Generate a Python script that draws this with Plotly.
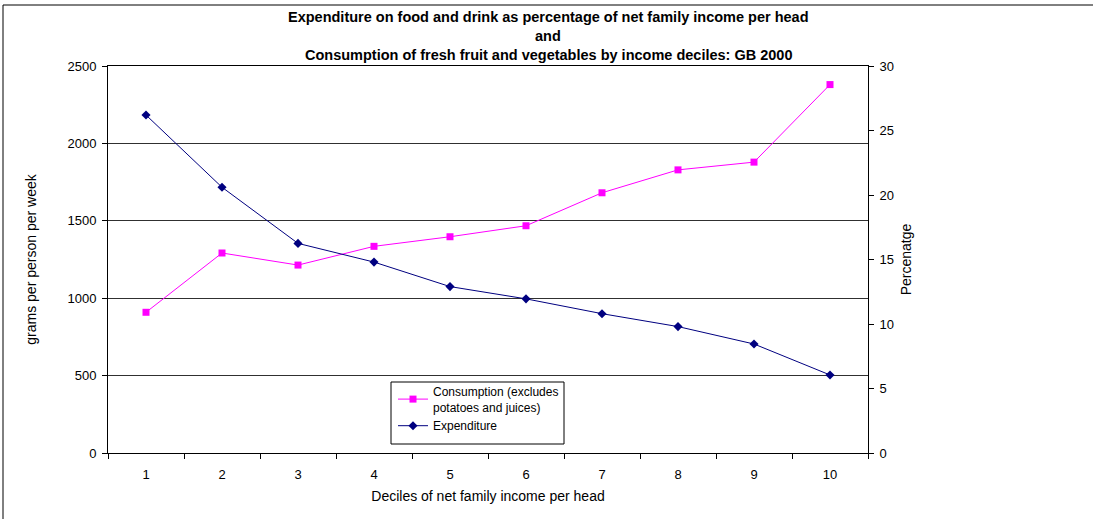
import plotly.graph_objects as go

deciles = ["1", "2", "3", "4", "5", "6", "7", "8", "9", "10"]
consumption = [909, 1292, 1214, 1335, 1397, 1468, 1681, 1829, 1879, 2380]
expenditure = [26.2, 20.6, 16.25, 14.8, 12.9, 11.95, 10.8, 9.8, 8.45, 6.05]
left_ticks = [0, 500, 1000, 1500, 2000, 2500]
right_ticks = [0, 5, 10, 15, 20, 25, 30]

FONT = "Arial, Liberation Sans, sans-serif"
L, R, T, B = 108, 225, 66, 66
W, H = 1093, 519
pw = W - L - R
ph = H - T - B

def px_x(x):
    return (x - L) / pw

def px_y(y):
    return (H - B - y) / ph

fig = go.Figure()
fig.add_trace(go.Scatter(
    x=deciles, y=consumption, name="Consumption (excludes<br>potatoes and juices)",
    mode="lines+markers", line=dict(color="#FF00FF", width=1),
    marker=dict(symbol="square", size=7, color="#FF00FF"), yaxis="y"))
fig.add_trace(go.Scatter(
    x=deciles, y=expenditure, name="Expenditure",
    mode="lines+markers", line=dict(color="#000080", width=1),
    marker=dict(symbol="diamond", size=7, color="#000080"), yaxis="y2"))

fig.update_layout(
    width=W, height=H, autosize=False,
    margin=dict(l=L, r=R, t=T, b=B, pad=0),
    paper_bgcolor="white", plot_bgcolor="white",
    font=dict(family=FONT, size=13, color="black"),
    showlegend=True,
    legend=dict(x=px_x(393), y=px_y(377), xanchor="left", yanchor="top",
                bgcolor="rgba(0,0,0,0)", borderwidth=0,
                font=dict(family=FONT, size=12, color="black"),
                tracegroupgap=0, itemwidth=30),
    xaxis=dict(type="category", tickson="boundaries", ticks="outside", ticklen=5,
               tickcolor="black", showline=True, linecolor="black", linewidth=1,
               mirror=True,
               showgrid=False, zeroline=False, range=[-0.5, 9.5],
               tickfont=dict(size=13), ticklabelstandoff=9,
               title=dict(text="Deciles of net family income per head", font=dict(size=14), standoff=10)),
    yaxis=dict(range=[0, 2500], tickvals=left_ticks, ticks="outside", ticklen=5,
               tickcolor="black", showline=True, linecolor="black", linewidth=1,
               showgrid=True, gridcolor="#303030", gridwidth=1, zeroline=False,
               tickfont=dict(size=13), ticklabelstandoff=3,
               title=dict(text="grams per person per week", font=dict(size=14), standoff=27)),
    yaxis2=dict(range=[0, 30], tickvals=right_ticks, overlaying="y", side="right",
                ticks="outside", ticklen=5, tickcolor="black", showline=True,
                linecolor="black", linewidth=1, showgrid=False, zeroline=False,
                tickfont=dict(size=13), ticklabelstandoff=3,
                title=dict(text="Percenatge", font=dict(size=14), standoff=8)),
    shapes=[
        dict(type="rect", xref="paper", yref="paper",
             x0=px_x(391), x1=px_x(564), y0=px_y(444), y1=px_y(382),
             line=dict(color="black", width=1), fillcolor="rgba(0,0,0,0)", layer="above"),
        dict(type="rect", xref="paper", yref="paper",
             x0=px_x(3), x1=px_x(1400), y0=px_y(800), y1=px_y(5),
             line=dict(color="black", width=1), fillcolor="rgba(0,0,0,0)"),
    ],
    annotations=[
        dict(text="<b>Expenditure on food and drink as percentage of net family income per head</b>",
             xref="paper", yref="paper", x=px_x(548), y=px_y(17), xanchor="center", yanchor="middle",
             showarrow=False, font=dict(size=14.5)),
        dict(text="<b>and</b>",
             xref="paper", yref="paper", x=px_x(548), y=px_y(36), xanchor="center", yanchor="middle",
             showarrow=False, font=dict(size=14.5)),
        dict(text="<b>Consumption of fresh fruit and vegetables by income deciles: GB 2000</b>",
             xref="paper", yref="paper", x=px_x(548), y=px_y(55), xanchor="center", yanchor="middle",
             showarrow=False, font=dict(size=14.5)),
    ],
)

fig.write_html("out.html")
